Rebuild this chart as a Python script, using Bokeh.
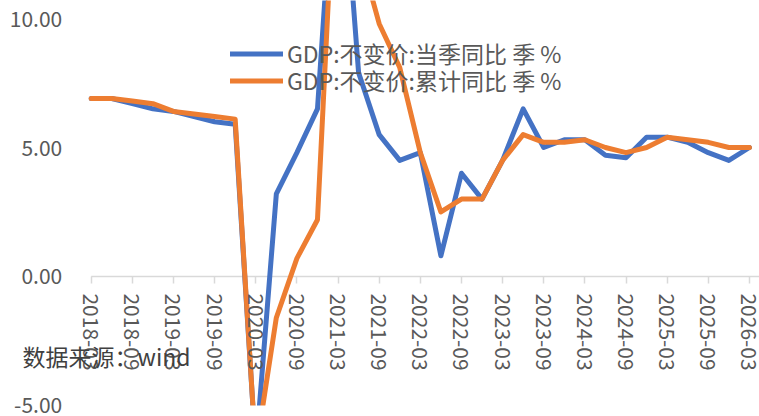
from bokeh.plotting import figure
from bokeh.models import (FixedTicker, NumeralTickFormatter, Legend, LegendItem,
                          Label, Range1d, ColumnDataSource, BoxAnnotation)
from bokeh.embed import file_html
from bokeh.resources import INLINE

quarters = ["2018-03", "2018-06", "2018-09", "2018-12",
            "2019-03", "2019-06", "2019-09", "2019-12",
            "2020-03", "2020-06", "2020-09", "2020-12",
            "2021-03", "2021-06", "2021-09", "2021-12",
            "2022-03", "2022-06", "2022-09", "2022-12",
            "2023-03", "2023-06", "2023-09", "2023-12",
            "2024-03", "2024-06", "2024-09", "2024-12",
            "2025-03", "2025-06", "2025-09", "2025-12",
            "2026-03"]
gdp_quarter = [6.9, 6.9, 6.7, 6.5, 6.4, 6.2, 6.0, 5.9,
               -6.8, 3.2, 4.8, 6.5, 18.3, 7.9, 5.5, 4.5,
               4.8, 0.8, 4.0, 3.0, 4.5, 6.5, 5.0, 5.3,
               5.3, 4.7, 4.6, 5.4, 5.4, 5.2, 4.8, 4.5, 5.0]
gdp_cumulative = [6.9, 6.9, 6.8, 6.7, 6.4, 6.3, 6.2, 6.1,
                  -6.8, -1.6, 0.7, 2.2, 18.3, 12.7, 9.8, 8.1,
                  4.8, 2.5, 3.0, 3.0, 4.5, 5.5, 5.2, 5.2,
                  5.3, 5.0, 4.8, 5.0, 5.4, 5.3, 5.2, 5.0, 5.0]
series_names = ["GDP:不变价:当季同比 季 %", "GDP:不变价:累计同比 季 %"]
y_ticks = [-5, 0, 5, 10]
source_note = "数据来源：wind"

FONT = "Noto Sans CJK SC"
TXT = "#595959"
Y_MIN = min(y_ticks)

idx = list(range(len(quarters)))
src = ColumnDataSource(dict(x=idx, q=gdp_quarter, c=gdp_cumulative))

yr = Range1d(-5.43, 10.70)
p = figure(width=759, height=416, output_backend="svg", toolbar_location=None,
           x_range=Range1d(-4.41, 32.49), y_range=yr,
           min_border_left=0, min_border_right=0, min_border_top=0,
           min_border_bottom=0)
p.outline_line_color = None
p.grid.visible = False
p.background_fill_color = "white"
p.border_fill_color = "white"

# category axis line starting at the first quarter, at zero
p.ray(x=[idx[0]], y=[0], length=0, angle=0, line_color="#D9D9D9", line_width=1.5)

r1 = p.line("x", "q", source=src, line_color="#4472C4", line_width=5,
            line_join="round", line_cap="round")
r2 = p.line("x", "c", source=src, line_color="#ED7D31", line_width=5,
            line_join="round", line_cap="round")

# bottom of the plot area is the axis minimum (-5): hide what lies below
span = yr.end - yr.start
p.add_layout(BoxAnnotation(bottom=yr.start - span, top=Y_MIN, fill_color="white",
                           fill_alpha=1.0, line_color=None, line_alpha=0,
                           level="annotation"))

xa = p.xaxis[0]
xa.fixed_location = 0
xa.ticker = FixedTicker(ticks=idx[::2])
xa.major_label_overrides = {i: quarters[i] for i in idx[::2]}
xa.major_label_orientation = "vertical"
xa.axis_line_color = None
xa.major_tick_line_color = "#D9D9D9"
xa.major_tick_line_width = 1.5
xa.major_tick_out = 7
xa.major_tick_in = 0
xa.minor_tick_line_color = None
xa.major_label_text_font = FONT
xa.major_label_text_font_size = "21px"
xa.major_label_text_color = TXT
xa.major_label_standoff = 10
xa.level = "overlay"

ya = p.yaxis[0]
ya.fixed_location = idx[0]
ya.ticker = FixedTicker(ticks=y_ticks)
ya.formatter = NumeralTickFormatter(format="0.00")
ya.axis_line_color = None
ya.major_tick_line_color = None
ya.minor_tick_line_color = None
ya.major_tick_out = 0
ya.major_tick_in = 0
ya.major_label_text_font = FONT
ya.major_label_text_font_size = "21px"
ya.major_label_text_color = TXT
ya.major_label_standoff = 29
ya.level = "overlay"

legend_style = dict(orientation="vertical", glyph_width=53, glyph_height=27,
                    label_height=27, label_standoff=4, spacing=0, padding=0,
                    margin=0, border_line_color=None, background_fill_alpha=0,
                    label_text_font=FONT, label_text_font_size="23px",
                    label_text_color=TXT, level="overlay")
for name, rend, loc in ((series_names[0], r1, (230, 346)),
                        (series_names[1], r2, (230, 319))):
    p.add_layout(Legend(items=[LegendItem(label=name, renderers=[rend])],
                        location=loc, **legend_style), "center")

note = Label(x=22, y=61, x_units="screen", y_units="screen", text=source_note,
             text_font=FONT, text_font_size="23px", text_color="#404040",
             text_baseline="middle", level="overlay")
p.add_layout(note)

open("out.html", "w").write(file_html(p, INLINE))
